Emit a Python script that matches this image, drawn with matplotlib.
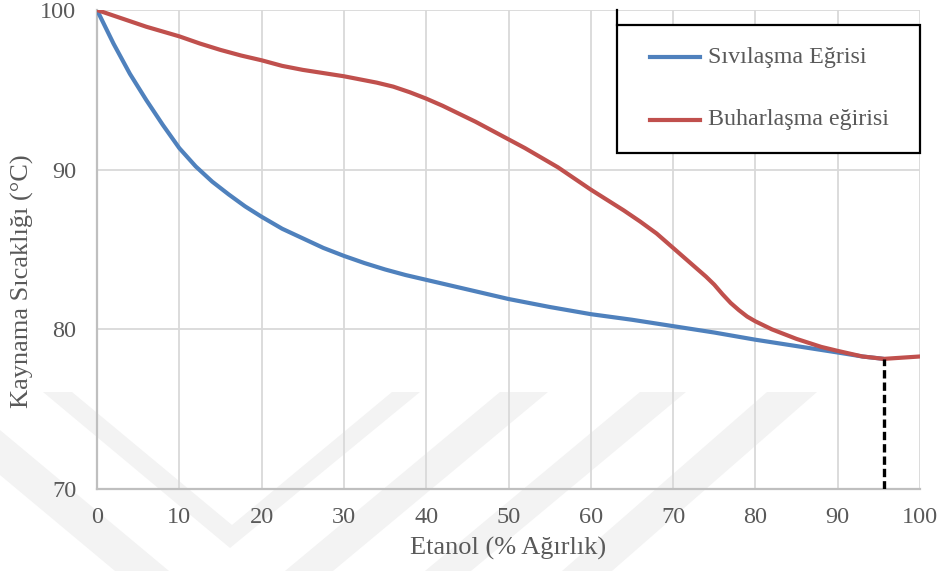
import matplotlib
matplotlib.use('Agg')
import matplotlib.pyplot as plt
from matplotlib.patches import Polygon, Rectangle

# ethanol-water boiling diagram (wt %)
liq_x = [0, 2, 4, 6, 8, 10, 12, 14, 16, 18, 20, 22.5, 25, 27.5, 30, 32.5, 35, 37.5, 40,
         45, 50, 55, 60, 65, 70, 75, 80, 85, 90, 93, 95.6]
liq_t = [100, 97.9, 96.0, 94.35, 92.8, 91.35, 90.2, 89.25, 88.45, 87.7, 87.05, 86.3, 85.7,
         85.1, 84.6, 84.15, 83.75, 83.4, 83.1, 82.5, 81.9, 81.4, 80.95, 80.6, 80.2, 79.8,
         79.35, 78.95, 78.55, 78.3, 78.15]

vap_x = [0, 2, 4, 6, 8, 10, 12.5, 15, 17.5, 20, 22.5, 25, 27.5, 30, 32, 34, 36, 38, 40, 42,
         44, 46, 48, 50, 52, 54, 56, 58, 60, 62, 64, 66, 68, 70, 72, 74, 75, 76, 77, 78, 79,
         80, 82, 85, 88, 90, 93, 95.6, 100]
vap_t = [100, 99.65, 99.3, 98.95, 98.65, 98.35, 97.9, 97.5, 97.15, 96.85, 96.5, 96.25,
         96.05, 95.85, 95.65, 95.45, 95.2, 94.85, 94.45, 94.0, 93.5, 93.0, 92.45, 91.9,
         91.35, 90.75, 90.15, 89.45, 88.75, 88.1, 87.45, 86.75, 86.0, 85.1, 84.2, 83.3,
         82.8, 82.2, 81.65, 81.2, 80.8, 80.5, 80.0, 79.4, 78.9, 78.65, 78.3, 78.15, 78.3]

azeo_x = 95.6
azeo_t = 78.15

labels = ['Sıvılaşma Eğrisi', 'Buharlaşma eğirisi']
xticks = [0, 10, 20, 30, 40, 50, 60, 70, 80, 90, 100]
yticks = [70, 80, 90, 100]

blue = '#4f81bd'
red = '#c0504d'
txt = '#595959'
W, H = 945, 571

plt.rcParams['font.family'] = ['Liberation Serif', 'DejaVu Serif']

fig = plt.figure(figsize=(W / 100, H / 100), dpi=100)
ax = fig.add_axes([97 / W, 1 - 489 / H, 823 / W, 479 / H])
ax.set_facecolor('none')

# faint background stripes, drawn in pixel space
def px(pts):
    return [(x / W, 1 - y / H) for x, y in pts]

stripes = [
    [(43, 392), (72, 392), (232, 525), (392, 392), (420, 392), (230, 548)],
    [(0, 430), (169, 571), (115, 571), (0, 475)],
    [(500, 392), (548, 392), (333, 571), (285, 571)],
    [(640, 392), (686, 392), (471, 571), (425, 571)],
    [(767, 392), (817, 392), (612, 571), (562, 571)],
]
for s in stripes:
    fig.patches.append(Polygon(px(s), closed=True, transform=fig.transFigure,
                               facecolor='#f3f3f3', edgecolor='none', zorder=-1))

ax.plot(liq_x, liq_t, color=blue, lw=3.0, solid_capstyle='round', zorder=3)
ax.plot(vap_x, vap_t, color=red, lw=3.0, solid_capstyle='round', zorder=4)
ax.plot([azeo_x, azeo_x], [70, azeo_t], color='black', lw=2.4, ls=(0, (2.5, 1.2)), zorder=5)

ax.set_xlim(0, 100)
ax.set_ylim(70, 100)
ax.set_xticks(xticks)
ax.set_yticks(yticks)
ax.grid(True, color='#d9d9d9', lw=1.3, zorder=0)
ax.set_axisbelow(True)
for side in ['top', 'right']:
    ax.spines[side].set_visible(False)
for side in ['left', 'bottom']:
    ax.spines[side].set_color('#bfbfbf')
    ax.spines[side].set_linewidth(1.6)
ax.tick_params(length=0, labelsize=17.5, labelcolor=txt)
ax.tick_params(axis='x', pad=13)
ax.tick_params(axis='y', pad=15)

ax.set_xlabel('Etanol (% Ağırlık)', fontsize=19, color=txt)
ax.set_ylabel('Kaynama Sıcaklığı (°C)', fontsize=19, color=txt)
ax.xaxis.set_label_coords(0.5, -(548 - 489) / 479)
ax.yaxis.set_label_coords((22 - 97) / 823, (489 - 281) / 479)
ax.xaxis.label.set_va('center')
ax.yaxis.label.set_va('center')

# legend box
lx0, lx1 = (617 - 97) / 823, 1.0
ly0, ly1 = (489 - 153) / 479, (489 - 25) / 479
ax.add_patch(Rectangle((lx0, ly0), lx1 - lx0, ly1 - ly0, transform=ax.transAxes,
                       facecolor='white', edgecolor='black', lw=1.6, clip_on=False, zorder=6))
ax.plot([lx0, lx0], [ly1, 1.0], transform=ax.transAxes, color='black', lw=1.6,
        clip_on=False, zorder=6)
for lab, col, ypx in zip(labels, [blue, red], [57, 120]):
    yy = (489 - ypx) / 479
    ax.plot([(650 - 97) / 823, (700 - 97) / 823], [yy, yy], transform=ax.transAxes,
            color=col, lw=3.0, clip_on=False, zorder=7)
    ax.text((708 - 97) / 823, yy, lab, transform=ax.transAxes, fontsize=17.3, color=txt,
            va='center', ha='left', zorder=7)

fig.savefig('out.png', dpi=100)
